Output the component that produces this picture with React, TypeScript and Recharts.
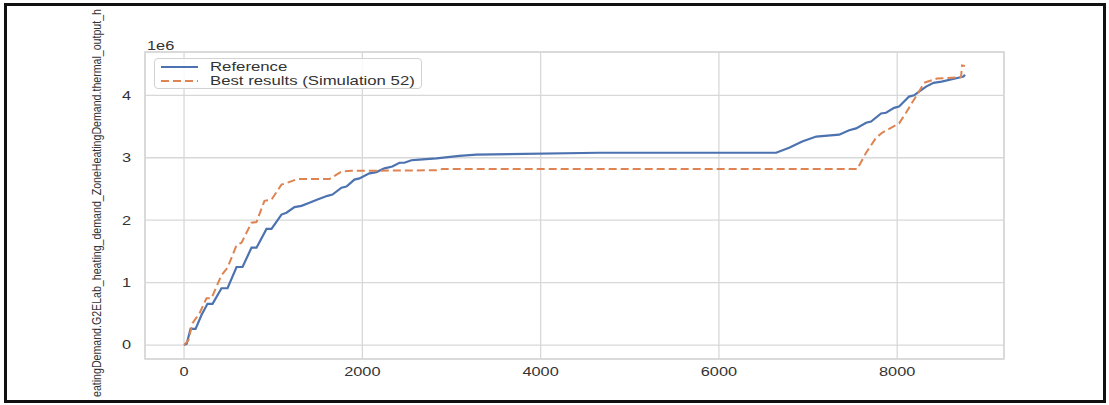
import React from 'react'
import { CartesianGrid, Legend, Line, LineChart, ReferenceArea, XAxis, YAxis } from 'recharts'

// hours of the year / cumulative heat (in 1e6)
const REF_HOURS = [
	0, 30, 73, 129, 196, 263, 320, 420, 488, 589, 656, 757, 813, 925, 981, 1093, 1149, 1239, 1317, 1407,
	1497, 1609, 1665, 1766, 1822, 1911, 1967, 2079, 2158, 2248, 2337, 2416, 2472, 2550, 2640, 2831, 3089,
	3279, 4658, 6642, 6788, 6934, 7091, 7349, 7461, 7539, 7651, 7707, 7819, 7875, 7965, 8021, 8133, 8189,
	8245, 8324, 8408, 8498, 8711, 8744, 8760,
]
const REF_VALUES = [
	0, 0.02, 0.26, 0.26, 0.48, 0.66, 0.66, 0.91, 0.91, 1.25, 1.25, 1.56, 1.56, 1.86, 1.86, 2.09, 2.12, 2.21,
	2.23, 2.28, 2.33, 2.39, 2.41, 2.52, 2.54, 2.65, 2.67, 2.75, 2.77, 2.83, 2.86, 2.92, 2.92, 2.96, 2.97,
	2.99, 3.03, 3.05, 3.08, 3.08, 3.16, 3.26, 3.34, 3.37, 3.44, 3.47, 3.56, 3.58, 3.71, 3.72, 3.8, 3.82, 3.98,
	4.0, 4.06, 4.14, 4.2, 4.22, 4.29, 4.3, 4.33,
]
const BEST_HOURS = [
	0, 50, 95, 174, 252, 308, 420, 488, 589, 645, 757, 813, 902, 981, 1093, 1160, 1272, 1631, 1766, 1878,
	2830, 2900, 7551, 7651, 7763, 7830, 8021, 8099, 8166, 8245, 8301, 8447, 8716, 8727, 8760,
]
const BEST_VALUES = [
	0, 0.08, 0.35, 0.51, 0.75, 0.75, 1.12, 1.24, 1.6, 1.64, 1.96, 1.97, 2.31, 2.33, 2.57, 2.6, 2.66, 2.66,
	2.78, 2.79, 2.8, 2.82, 2.82, 3.08, 3.32, 3.4, 3.55, 3.72, 3.88, 4.06, 4.2, 4.27, 4.29, 4.48, 4.47,
]
const SERIES_NAMES = ['Reference', 'Best results (Simulation 52)']
const X_TICKS = [0, 2000, 4000, 6000, 8000]
const Y_TICKS = [0, 1, 2, 3, 4]
const Y_LABEL = 'eatingDemand.G2ELab_heating_demand_ZoneHeatingDemand.thermal_output_h'
const OFFSET_TEXT = '1e6'

const X_DOMAIN = [-438, 9198]
const Y_DOMAIN = [-0.2235, 4.694]
const COLORS = ['#4c72b0', '#dd8452']
const FONT = '"Liberation Sans", Arial, sans-serif'
const FONT_SIZE = 12.3
const SX = 1.33 // the picture is stretched sideways
const GRID = '#d8d8d8'
const TEXT = '#333333'

const refData = REF_HOURS.map((x, i) => ({ x, y: REF_VALUES[i] }))
const bestData = BEST_HOURS.map((x, i) => ({ x, y: BEST_VALUES[i] }))

const XTick = (props: any) => {
	const { x, y, payload } = props
	return (
		<text
			transform={`translate(${x},${y}) scale(${SX},1)`}
			textAnchor="middle"
			dy="0.71em"
			fontFamily={FONT}
			fontSize={FONT_SIZE}
			fill={TEXT}
		>
			{payload.value}
		</text>
	)
}

const YTick = (props: any) => {
	const { x, y, payload } = props
	return (
		<text
			transform={`translate(${x},${y}) scale(${SX},1)`}
			textAnchor="end"
			dy="0.355em"
			fontFamily={FONT}
			fontSize={FONT_SIZE}
			fill={TEXT}
		>
			{payload.value}
		</text>
	)
}

const AxisTexts = () => (
	<g>
		<text
			transform="translate(101,203) rotate(-90)"
			textAnchor="middle"
			fontFamily={FONT}
			fontSize={12.5}
			fill={TEXT}
			textLength={388}
			lengthAdjust="spacingAndGlyphs"
		>
			{Y_LABEL}
		</text>
		<text transform={`translate(147,50) scale(${SX},1)`} fontFamily={FONT} fontSize={FONT_SIZE} fill={TEXT}>
			{OFFSET_TEXT}
		</text>
	</g>
)

const LegendBox = () => (
	<div
		style={{
			width: 268,
			height: 31,
			boxSizing: 'border-box',
			border: '1px solid #d2d2d2',
			borderRadius: 4,
			background: 'rgba(255,255,255,0.85)',
			fontFamily: FONT,
			fontSize: 12.6,
			color: TEXT,
			position: 'relative',
		}}
	>
		{SERIES_NAMES.map((name, i) => (
			<div key={name} style={{ position: 'absolute', left: 0, top: 1 + i * 14, height: 14, width: 266 }}>
				<svg width={50} height={14} style={{ position: 'absolute', left: 0, top: 0 }}>
					<line
						x1={6}
						x2={43}
						y1={7}
						y2={7}
						stroke={COLORS[i]}
						strokeWidth={i === 0 ? 2 : 1.8}
						strokeDasharray={i === 0 ? undefined : '8 4'}
					/>
				</svg>
				<span
					style={{
						position: 'absolute',
						left: 55,
						top: 0,
						lineHeight: '14px',
						whiteSpace: 'nowrap',
						transform: `scaleX(${SX})`,
						transformOrigin: 'left center',
					}}
				>
					{name}
				</span>
			</div>
		))}
	</div>
)

const App = () => {
	return (
		<div style={{ position: 'absolute', left: 0, top: 0, width: 1109, height: 405, background: '#fff' }}>
			<LineChart width={1109} height={405} margin={{ top: 52, right: 105, bottom: 16, left: 105 }}>
				<CartesianGrid stroke={GRID} strokeWidth={1.3} />
				<XAxis
					type="number"
					dataKey="x"
					domain={X_DOMAIN}
					ticks={X_TICKS}
					allowDataOverflow
					axisLine={false}
					tickLine={false}
					tickSize={0}
					tickMargin={8}
					height={30}
					tick={<XTick />}
				/>
				<YAxis
					type="number"
					dataKey="y"
					domain={Y_DOMAIN}
					ticks={Y_TICKS}
					allowDataOverflow
					axisLine={false}
					tickLine={false}
					tickSize={0}
					tickMargin={14}
					width={40}
					tick={<YTick />}
					label={<AxisTexts />}
				/>
				<ReferenceArea
					x1={X_DOMAIN[0]}
					x2={X_DOMAIN[1]}
					y1={Y_DOMAIN[0]}
					y2={Y_DOMAIN[1]}
					fill="none"
					stroke={GRID}
					strokeWidth={1.6}
					ifOverflow="visible"
				/>
				<Line
					data={refData}
					dataKey="y"
					name={SERIES_NAMES[0]}
					type="linear"
					stroke={COLORS[0]}
					strokeWidth={2.2}
					dot={false}
					isAnimationActive={false}
				/>
				<Line
					data={bestData}
					dataKey="y"
					name={SERIES_NAMES[1]}
					type="linear"
					stroke={COLORS[1]}
					strokeWidth={2}
					strokeDasharray="8 4"
					dot={false}
					isAnimationActive={false}
				/>
				<Legend
					layout="vertical"
					align="center"
					verticalAlign="middle"
					content={<LegendBox />}
					wrapperStyle={{ left: 154, top: 58, width: 268, height: 31 }}
				/>
			</LineChart>
			<div
				style={{
					position: 'absolute',
					left: 4,
					top: 3,
					width: 1102,
					height: 400,
					boxSizing: 'border-box',
					border: '3px solid #111',
					pointerEvents: 'none',
				}}
			/>
		</div>
	)
}

export default App
